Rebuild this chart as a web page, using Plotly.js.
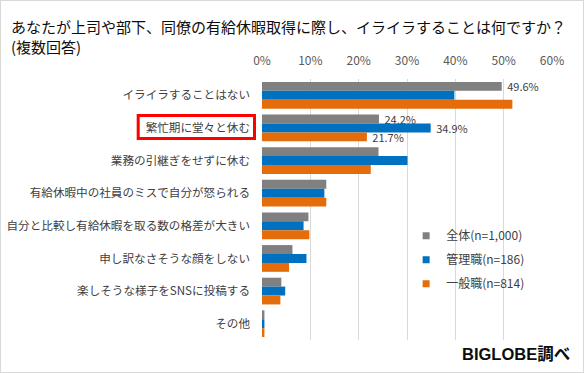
<!DOCTYPE html>
<html>
<head>
<meta charset="utf-8">
<script src="https://cdn.plot.ly/plotly-3.0.1.min.js"></script>
<style>
  html, body { margin: 0; padding: 0; background: #ffffff; }
  #chart { width: 584px; height: 373px; box-sizing: border-box; border: 1px solid #d9d9d9; }
</style>
</head>
<body>
<div id="chart"></div>
<script>
// ---- data ----
const categories = [
  'イライラすることはない',
  '繁忙期に堂々と休む',
  '業務の引継ぎをせずに休む',
  '有給休暇中の社員のミスで自分が怒られる',
  '自分と比較し有給休暇を取る数の格差が大きい',
  '申し訳なさそうな顔をしない',
  '楽しそうな様子をSNSに投稿する',
  'その他'
];
const seriesNames = ['全体(n=1,000)', '管理職(n=186)', '一般職(n=814)'];
const allValues     = [49.6, 24.2, 24.1, 13.3, 9.6, 6.3, 4.0, 0.5];
const managerValues = [39.8, 34.9, 30.1, 12.9, 8.6, 9.2, 4.8, 0.5];
const generalValues = [51.8, 21.7, 22.5, 13.3, 9.8, 5.6, 3.8, 0.5];
// which bars carry a data label
const allLabelled     = [true, true, false, false, false, false, false, false];
const managerLabelled = [false, true, false, false, false, false, false, false];
const generalLabelled = [false, true, false, false, false, false, false, false];
const tickValues = [0, 10, 20, 30, 40, 50, 60];
const tickLabels = ['0%', '10%', '20%', '30%', '40%', '50%', '60%'];

const colors = ['#808080', '#0070C0', '#E46C0A'];
const FONT = 'Noto Sans CJK JP, Noto Sans, sans-serif';

function barTrace(name, values, labelled, color) {
  return {
    type: 'bar',
    orientation: 'h',
    name: name,
    y: categories,
    x: values,
    marker: { color: color },
    texttemplate: labelled.map(f => f ? '\u00a0%{x:.1f}%' : ''),
    textposition: 'outside',
    constraintext: 'none',
    textfont: { family: FONT, size: 11, color: '#404040' },
    cliponaxis: false,
    showlegend: false,
    hoverinfo: 'skip'
  };
}
function legendTrace(name, color, group) {
  return {
    type: 'scatter',
    mode: 'markers',
    name: name,
    x: [null], y: [null],
    marker: { symbol: 'square', size: 7, color: color },
    legendgroup: group,
    showlegend: true,
    hoverinfo: 'skip'
  };
}

const data = [
  barTrace(seriesNames[0], allValues, allLabelled, colors[0]),
  barTrace(seriesNames[1], managerValues, managerLabelled, colors[1]),
  barTrace(seriesNames[2], generalValues, generalLabelled, colors[2]),
  legendTrace(seriesNames[0], colors[0], 'g1'),
  legendTrace(seriesNames[1], colors[1], 'g2'),
  legendTrace(seriesNames[2], colors[2], 'g3')
];

const W = 582, H = 371;
const layout = {
  width: W, height: H,
  margin: { l: 261, r: 31, t: 78, b: 32, pad: 0 },
  paper_bgcolor: '#ffffff',
  plot_bgcolor: '#ffffff',
  font: { family: FONT, size: 12, color: '#404040' },
  barmode: 'group',
  bargap: 0.18,
  bargroupgap: 0,
  title: {
    text: 'あなたが上司や部下、同僚の有給休暇取得に際し、イライラすることは何ですか？<br>(複数回答)',
    font: { family: FONT, size: 15, color: '#0d0d0d' },
    xref: 'container', yref: 'container',
    x: 10 / W, xanchor: 'left',
    y: 1 - 32 / H, yanchor: 'top'
  },
  xaxis: {
    side: 'top',
    range: [0, 60],
    tickvals: tickValues,
    ticktext: tickLabels,
    showgrid: true,
    gridcolor: '#d9d9d9',
    gridwidth: 1,
    zeroline: false,
    showline: false,
    ticks: '',
    ticklabelstandoff: 11,
    tickfont: { family: FONT, size: 12, color: '#595959' },
    fixedrange: true
  },
  yaxis: {
    type: 'category',
    autorange: 'reversed',
    showgrid: false,
    zeroline: false,
    showline: false,
    ticks: '',
    ticklabelstandoff: 11,
    tickfont: { family: FONT, size: 11.6, color: '#404040' },
    fixedrange: true
  },
  legend: {
    x: 0.497, xanchor: 'left',
    y: 0.455, yanchor: 'top',
    bgcolor: 'rgba(0,0,0,0)',
    font: { family: FONT, size: 12, color: '#404040' },
    traceorder: 'grouped',
    tracegroupgap: 5,
    itemwidth: 30
  },
  shapes: [{
    type: 'rect',
    xref: 'paper', yref: 'paper',
    x0: (137.2 - 261) / 290, x1: (253.5 - 261) / 290,
    y0: 1 - (137.5 - 78) / 261, y1: 1 - (114.5 - 78) / 261,
    line: { color: '#ff0000', width: 3 },
    fillcolor: 'rgba(0,0,0,0)'
  }],
  annotations: [{
    text: '<b>BIGLOBE調べ</b>',
    xref: 'paper', yref: 'paper',
    x: (571 - 261) / 290, xanchor: 'right',
    y: 1 - (353.3 - 78) / 261, yanchor: 'middle',
    showarrow: false,
    font: { family: 'Liberation Sans, Noto Sans CJK JP, sans-serif', size: 16.5, color: '#0d0d0d' }
  }]
};

Plotly.newPlot('chart', data, layout, { displayModeBar: false, staticPlot: true });
</script>
</body>
</html>
